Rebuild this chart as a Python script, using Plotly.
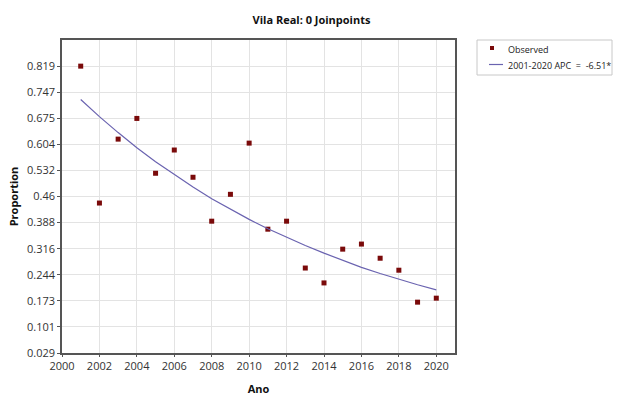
import plotly.graph_objects as go

years = list(range(2001, 2021))
observed = [0.819, 0.442, 0.618, 0.675, 0.524, 0.588, 0.513, 0.392, 0.466, 0.607,
            0.370, 0.392, 0.263, 0.222, 0.315, 0.329, 0.290, 0.257, 0.169, 0.180]
fitted = [0.727, 0.680, 0.636, 0.594, 0.556, 0.520, 0.486, 0.454, 0.425, 0.397,
          0.371, 0.347, 0.325, 0.304, 0.284, 0.265, 0.248, 0.232, 0.217, 0.203]
y_ticks = [0.029, 0.101, 0.173, 0.244, 0.316, 0.388, 0.46, 0.532, 0.604, 0.675, 0.747, 0.819]
y_ticktext = ["0.029", "0.101", "0.173", "0.244", "0.316", "0.388", "0.46", "0.532",
              "0.604", "0.675", "0.747", "0.819"]
x_ticks = list(range(2000, 2021, 2))
legend_labels = ["Observed", "2001-2020 APC  =  -6.51*"]

font = "Open Sans, Noto Sans, sans-serif"
marker_color = "#7a0a0a"
line_color = "#6a63b0"

W, H = 623, 396
L, R, T, B = 62, 168, 40, 43
pw, ph = W - L - R, H - T - B


def px(x):
    return (x - L) / pw


def py(y):
    return (H - B - y) / ph


fig = go.Figure()
fig.add_trace(go.Scatter(x=years, y=observed, mode="markers", name=legend_labels[0],
                         marker=dict(symbol="square", size=5, color=marker_color,
                                     line=dict(width=0))))
fig.add_trace(go.Scatter(x=years, y=fitted, mode="lines", name=legend_labels[1],
                         line=dict(color=line_color, width=1.2)))

# legend drawn by hand (compact, like the reference)
shapes = [
    dict(type="rect", xref="paper", yref="paper", x0=px(477), x1=px(612), y0=py(75), y1=py(40),
         line=dict(color="#c8c8c8", width=1), fillcolor="white", layer="above"),
    dict(type="rect", xref="paper", yref="paper", x0=px(490), x1=px(494), y0=py(50), y1=py(46),
         line=dict(width=0), fillcolor=marker_color, layer="above"),
    dict(type="line", xref="paper", yref="paper", x0=px(489), x1=px(503), y0=py(64.5), y1=py(64.5),
         line=dict(color=line_color, width=1.2), layer="above"),
]
annotations = [
    dict(text=legend_labels[0], xref="paper", yref="paper", x=px(506), y=py(49.5),
         xanchor="left", yanchor="middle", showarrow=False, font=dict(size=9, color="#222")),
    dict(text=legend_labels[1], xref="paper", yref="paper", x=px(506), y=py(65),
         xanchor="left", yanchor="middle", showarrow=False, font=dict(size=9, color="#222")),
]

fig.update_layout(
    width=W, height=H,
    margin=dict(l=L, r=R, t=T, b=B),
    paper_bgcolor="white", plot_bgcolor="white",
    font=dict(family=font, size=11, color="#333"),
    title=dict(text="<b>Vila Real: 0 Joinpoints</b>", x=0.5, xref="container", xanchor="center",
               y=1 - 20 / H, yref="container", yanchor="middle",
               font=dict(size=11, color="#111")),
    showlegend=False,
    shapes=shapes,
    annotations=annotations,
)
fig.update_xaxes(range=[2000, 2021], tickvals=x_ticks, ticks="outside", ticklen=2,
                 tickcolor="#555", showgrid=True, automargin=False,
                 gridcolor="#e3e3e3", gridwidth=1, showline=True, linecolor="#555",
                 linewidth=1.5, mirror=True, zeroline=False,
                 title=dict(text="<b>Ano</b>", font=dict(size=11, color="#111"), standoff=16),
                 tickfont=dict(size=11, color="#333"))
fig.update_yaxes(range=[0.029, 0.891], tickvals=y_ticks, ticktext=y_ticktext, ticks="outside",
                 ticklen=3, tickcolor="#555", showgrid=True, automargin=False,
                 gridcolor="#e3e3e3", gridwidth=1, showline=True, linecolor="#555",
                 linewidth=1.5, mirror=True, zeroline=False,
                 title=dict(text="<b>Proportion</b>", font=dict(size=11, color="#111"), standoff=6),
                 tickfont=dict(size=11, color="#333"))

fig.write_html("out.html", config={"displayModeBar": False},
               post_script="document.body.style.margin='0';")
